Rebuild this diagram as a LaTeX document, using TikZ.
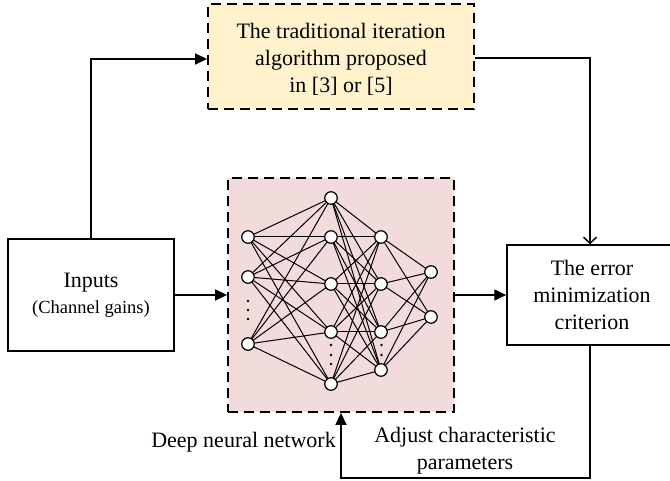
\documentclass[tikz,border=0pt]{standalone}
\usepackage{fontspec}
\IfFontExistsTF{LiberationSerif-Regular.ttf}{\setmainfont{LiberationSerif-Regular.ttf}[BoldFont=LiberationSerif-Bold.ttf]}{\setmainfont{Liberation Serif}}
\usetikzlibrary{arrows.meta}
\definecolor{topfill}{HTML}{FFF2CC}
\definecolor{nnfill}{HTML}{F2DCDB}
\begin{document}
\begin{tikzpicture}[x=1pt,y=-1pt,
  box/.style={draw, line width=1.5pt, inner sep=0pt},
  dbox/.style={draw, line width=1.8pt, dash pattern=on 10pt off 6pt, inner sep=0pt},
  lbl/.style={font=\fontsize{22}{27}\selectfont, align=center, inner sep=0pt},
  smalllbl/.style={font=\fontsize{18.5}{22}\selectfont, align=center, inner sep=0pt},
  conn/.style={line width=1.5pt, -{Triangle[length=12pt,width=11pt]}},
  openconn/.style={line width=1.5pt, -{Straight Barb[length=6pt,width=13pt]}},
  neuron/.style={circle, draw, fill=white, line width=1.2pt, minimum size=12.5pt, inner sep=0pt},
  syn/.style={line width=1pt},
  nndot/.style={circle, fill=black, minimum size=2.6pt, inner sep=0pt}]
\clip (0,0) rectangle (670,481);
\fill[white] (0,0) rectangle (670,481);

% boxes
\node[dbox, fill=topfill, minimum width=266pt, minimum height=105pt] (trad) at (341,56.5) {};
\node[lbl] (tradtxt) at (341,59.5) {The traditional iteration\\algorithm proposed\\in [3] or [5]};

\node[box, minimum width=166pt, minimum height=112pt] (inp) at (91,295) {};
\node[lbl] (inptxt) at (91,283) {Inputs};
\node[smalllbl] (gains) at (91,309) {(Channel gains)};

\node[dbox, fill=nnfill, minimum width=226pt, minimum height=234pt] (dnn) at (341,295) {};

\node[box, minimum width=170pt, minimum height=100pt] (err) at (592,295) {};
\node[lbl] (errtxt) at (592,295) {The error\\minimization\\criterion};

% neural network
\foreach \y [count=\i] in {237,277,344} \coordinate (a\i) at (248,\y);
\foreach \y [count=\i] in {198,237,284,332,384} \coordinate (b\i) at (331,\y);
\foreach \y [count=\i] in {237,284,332,370} \coordinate (c\i) at (381,\y);
\foreach \y [count=\i] in {272,317} \coordinate (d\i) at (431,\y);
\foreach \i in {1,...,3} \foreach \j in {1,...,5} \draw[syn] (a\i) -- (b\j);
\foreach \i in {1,...,5} \foreach \j in {1,...,4} \draw[syn] (b\i) -- (c\j);
\foreach \i in {1,...,4} \foreach \j in {1,2} \draw[syn] (c\i) -- (d\j);
\foreach \i in {1,...,3} \node[neuron] (na\i) at (a\i) {};
\foreach \i in {1,...,5} \node[neuron] (nb\i) at (b\i) {};
\foreach \i in {1,...,4} \node[neuron] (nc\i) at (c\i) {};
\foreach \i in {1,2} \node[neuron] (nd\i) at (d\i) {};
\foreach \y [count=\i] in {301,310,319} \node[nndot] (dota\i) at (248,\y) {};
\foreach \y [count=\i] in {345,355,364} \node[nndot] (dotb\i) at (331,\y) {};
\foreach \y [count=\i] in {345,355} \node[nndot] (dotc\i) at (381.5,\y) {};

% connectors
\draw[conn] (inp.east) -- (dnn.west);
\draw[conn] (dnn.east) -- (err.west);
\draw[conn] (inp.north) |- ([yshift=-2.5pt]trad.west);
\draw[openconn] ([yshift=-1.5pt]trad.east) -| ([xshift=-2pt]err.north);
\coordinate (loopcorner) at (590,478);
\draw[conn] ([xshift=-2pt]err.south) -- (loopcorner) -| (dnn.south);

% labels
\node[lbl, anchor=east] (dnnlbl) at (336,442) {Deep neural network};
\node[lbl] (adjlbl) at (465,451) {Adjust characteristic\\parameters};
\end{tikzpicture}
\end{document}
